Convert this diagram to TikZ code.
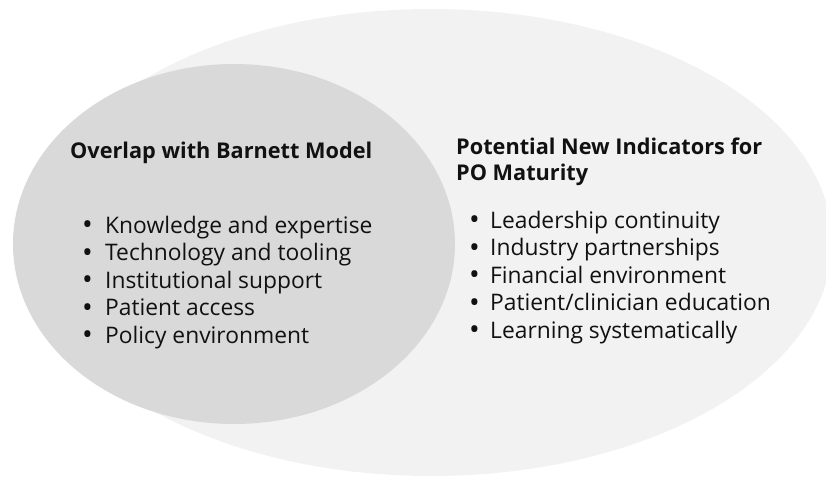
\documentclass[tikz,border=0pt]{standalone}
\usepackage{fontspec}
\setmainfont{Open Sans}
\definecolor{outerfill}{HTML}{F2F2F2}
\definecolor{innerfill}{HTML}{D9D9D9}
\definecolor{inktext}{HTML}{111111}
\newcommand{\itembullet}[1]{\makebox[#1][l]{\raisebox{-1.5pt}[0pt][0pt]{\scalebox{1.25}{\textbullet}}}}
\tikzset{
	heading/.style={anchor=base west, inner sep=0pt, font=\fontsize{21.7}{26}\selectfont\bfseries, text=inktext},
	item/.style={anchor=base west, inner sep=0pt, font=\fontsize{22.8}{26}\selectfont, text=inktext}
}
\begin{document}
\begin{tikzpicture}[x=1pt, y=-1pt]
		\useasboundingbox (0,0) rectangle (826,477);
		\fill[outerfill] (431,242.5) ellipse [x radius=401, y radius=233.5];
		\fill[innerfill] (234,244) ellipse [x radius=221, y radius=180];
		
		\node[heading] (overlap) at (70,158) {Overlap with Barnett Model};
		\node[heading] (newind) at (456,154) {Potential New Indicators for};
		\node[heading] (newind2) at (456,180) {PO Maturity};
		
		\foreach \txt [count=\i] in {Knowledge and expertise, Technology and tooling, Institutional support, Patient access, Policy environment}
		\node[item] (left\i) at (82,{233+27.5*(\i-1)}) {\itembullet{23pt}\txt};
		
		\foreach \txt [count=\i] in {Leadership continuity, Industry partnerships, Financial environment, Patient/clinician education, Learning systematically}
		\node[item] (right\i) at (469,{228+27.5*(\i-1)}) {\itembullet{21pt}\txt};
		\end{tikzpicture}
\end{document}
